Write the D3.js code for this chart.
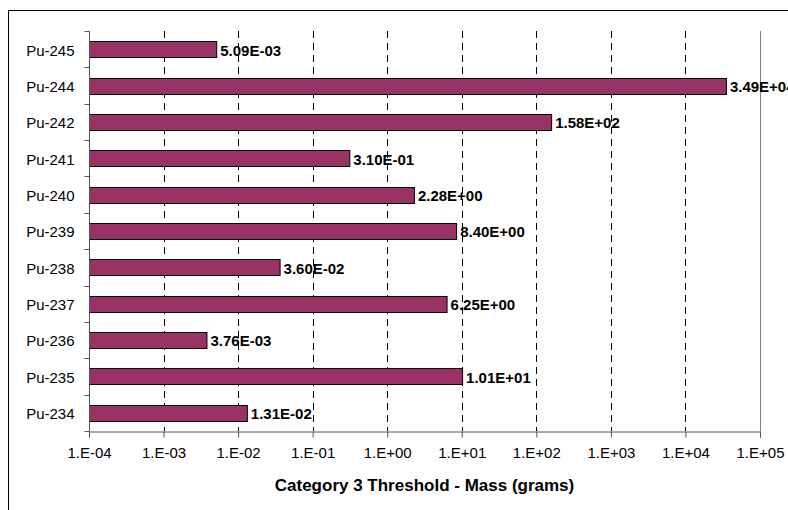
<!DOCTYPE html>
<html>
<head>
<meta charset="utf-8">
<script src="https://cdn.jsdelivr.net/npm/d3@7/dist/d3.min.js"></script>
<style>
  html, body { margin: 0; padding: 0; background: #fff; }
  svg { display: block; font-family: "Liberation Sans", Arial, sans-serif; }
</style>
</head>
<body>
<svg id="chart" width="788" height="510"></svg>
<script>
// Isotopes, listed top to bottom
const isotopes = ["Pu-245", "Pu-244", "Pu-242", "Pu-241", "Pu-240", "Pu-239",
                  "Pu-238", "Pu-237", "Pu-236", "Pu-235", "Pu-234"];
// Category 3 threshold mass, grams
const massGrams = [5.09e-3, 3.49e4, 1.58e2, 3.10e-1, 2.28e0, 8.40e0,
                   3.60e-2, 6.25e0, 3.76e-3, 1.01e1, 1.31e-2];
const massLabels = ["5.09E-03", "3.49E+04", "1.58E+02", "3.10E-01", "2.28E+00", "8.40E+00",
                    "3.60E-02", "6.25E+00", "3.76E-03", "1.01E+01", "1.31E-02"];
const xTicks = [1e-4, 1e-3, 1e-2, 1e-1, 1e0, 1e1, 1e2, 1e3, 1e4, 1e5];
const xTickLabels = ["1.E-04", "1.E-03", "1.E-02", "1.E-01", "1.E+00",
                     "1.E+01", "1.E+02", "1.E+03", "1.E+04", "1.E+05"];
const xTitle = "Category 3 Threshold - Mass (grams)";

const svg = d3.select("#chart");
const plot = { left: 89, right: 760, top: 31, bottom: 431 };

// outer chart frame (runs past the right and bottom edges)
svg.append("rect")
  .attr("x", 8.5).attr("y", 10.5).attr("width", 900).attr("height", 600)
  .attr("fill", "none").attr("stroke", "#000").attr("stroke-width", 1);

const x = d3.scaleLog().domain([1e-4, 1e5]).range([plot.left, plot.right]);
const y = d3.scaleBand().domain(isotopes).range([plot.top, plot.bottom])
  .paddingInner(0.56).paddingOuter(0.28);

// dashed vertical gridlines
svg.append("g").selectAll("line")
  .data(xTicks.slice(1, -1))
  .join("line")
  .attr("x1", d => Math.round(x(d)) + 0.5).attr("x2", d => Math.round(x(d)) + 0.5)
  .attr("y1", plot.top).attr("y2", plot.bottom)
  .attr("stroke", "#000").attr("stroke-width", 1)
  .attr("stroke-dasharray", "7,5");

// right plot edge
svg.append("line")
  .attr("x1", plot.right + 0.5).attr("x2", plot.right + 0.5)
  .attr("y1", plot.top).attr("y2", plot.bottom)
  .attr("stroke", "#808080").attr("stroke-width", 1);

// bars
svg.append("g").selectAll("rect")
  .data(isotopes)
  .join("rect")
  .attr("x", plot.left + 0.5)
  .attr("y", d => Math.round(y(d)) + 0.5)
  .attr("width", (d, i) => x(massGrams[i]) - plot.left)
  .attr("height", Math.round(y.bandwidth()))
  .attr("fill", "#993366")
  .attr("stroke", "#000").attr("stroke-width", 1);

// value labels
svg.append("g").selectAll("text")
  .data(isotopes)
  .join("text")
  .attr("x", (d, i) => x(massGrams[i]) + 4)
  .attr("y", d => y(d) + y.bandwidth() / 2 + 1)
  .attr("dy", "0.36em")
  .attr("font-size", 15).attr("font-weight", "bold").attr("fill", "#000")
  .text((d, i) => massLabels[i]);

// x axis
const xAxis = d3.axisBottom(x).tickValues(xTicks)
  .tickFormat((d, i) => xTickLabels[i]).tickSize(6).tickPadding(10);
const gx = svg.append("g").attr("transform", `translate(0,${plot.bottom + 0.5})`).call(xAxis);
gx.select(".domain").attr("stroke", "#555");
gx.selectAll(".tick line").attr("stroke", "#555");
gx.selectAll(".tick text").attr("font-size", 15).attr("fill", "#000")
  .attr("font-family", "Liberation Sans, Arial, sans-serif");

// y axis: ticks sit on category boundaries
const gy = svg.append("g").attr("transform", `translate(${plot.left + 0.5},0)`);
gy.append("line").attr("x1", 0).attr("x2", 0).attr("y1", plot.top).attr("y2", plot.bottom)
  .attr("stroke", "#555");
const step = (plot.bottom - plot.top) / isotopes.length;
gy.selectAll("line.b")
  .data(d3.range(isotopes.length + 1))
  .join("line").attr("class", "b")
  .attr("x1", -5).attr("x2", 0)
  .attr("y1", d => Math.round(plot.top + d * step) + 0.5)
  .attr("y2", d => Math.round(plot.top + d * step) + 0.5)
  .attr("stroke", "#555");
gy.selectAll("text")
  .data(isotopes)
  .join("text")
  .attr("x", -15)
  .attr("y", d => y(d) + y.bandwidth() / 2 + 1)
  .attr("dy", "0.36em")
  .attr("text-anchor", "end")
  .attr("font-size", 15).attr("fill", "#000")
  .text(d => d);

// axis title
svg.append("text")
  .attr("x", (plot.left + plot.right) / 2)
  .attr("y", 491)
  .attr("text-anchor", "middle")
  .attr("font-size", 17).attr("font-weight", "bold")
  .text(xTitle);
</script>
</body>
</html>
